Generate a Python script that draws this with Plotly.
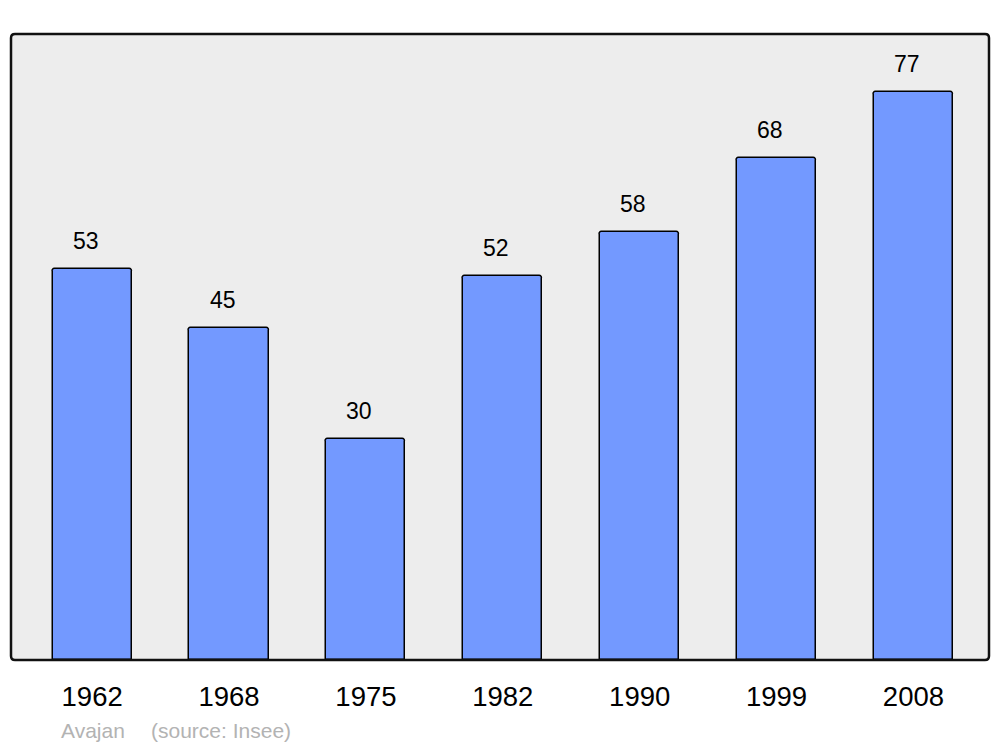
import plotly.graph_objects as go

years = ["1962", "1968", "1975", "1982", "1990", "1999", "2008"]
population = [53, 45, 30, 52, 58, 68, 77]

W, H = 1000, 747
L, R, T, B = 11, 11, 34, 87
pw, ph = W - L - R, H - T - B
FONT = "Liberation Sans, Arial, sans-serif"

fig = go.Figure()
fig.add_trace(go.Bar(
    x=list(range(len(years))), y=population, width=0.578,
    marker=dict(color="#7399ff", line=dict(color="black", width=1.5), cornerradius=3),
    hoverinfo="skip",
))

for i, v in enumerate(population):
    fig.add_annotation(x=i, y=v, text=str(v), showarrow=False, xref="x", yref="y",
                       yanchor="middle", yshift=28, xshift=-6.5,
                       font=dict(family=FONT, size=23, color="black"))

# rounded frame
rx, ry = 4 / pw, 4 / ph
path = (f"M {rx},0 L {1-rx},0 Q 1,0 1,{ry} L 1,{1-ry} Q 1,1 {1-rx},1 "
        f"L {rx},1 Q 0,1 0,{1-ry} L 0,{ry} Q 0,0 {rx},0 Z")
fig.add_shape(type="path", path=path, xref="paper", yref="paper", layer="below",
              fillcolor="#ededed", line=dict(width=0))
fig.add_shape(type="path", path=path, xref="paper", yref="paper", layer="above",
              line=dict(color="#111111", width=2.5))

def px2paper(x, y):
    return (x - L) / pw, (H - B - y) / ph

for txt, xpix in [("Avajan", 59), ("(source: Insee)", 149)]:
    xp, yp = px2paper(xpix, 730)
    fig.add_annotation(x=xp, y=yp, xref="paper", yref="paper", text=txt, showarrow=False,
                       xanchor="left", yanchor="middle",
                       font=dict(family=FONT, size=21, color="#b3b3b3"))

fig.update_layout(
    width=W, height=H,
    margin=dict(l=L, r=R, t=T, b=B, pad=0),
    paper_bgcolor="white", plot_bgcolor="rgba(0,0,0,0)",
    showlegend=False, bargap=0,
    font=dict(family=FONT, color="black"),
)
fig.update_xaxes(range=[-0.593, 6.552], showgrid=False, zeroline=False,
                 showline=False, ticks="outside", ticklen=12, tickcolor="rgba(0,0,0,0)",
                 tickmode="array", tickvals=list(range(len(years))), ticktext=years,
                 tickfont=dict(family=FONT, size=27.5, color="black"), fixedrange=True)
fig.update_yaxes(range=[0, 84.8], showgrid=False, zeroline=False, showline=False,
                 showticklabels=False, ticks="", fixedrange=True)

fig.write_html("out.html", config={"displayModeBar": False},
               post_script="document.body.style.margin='0';")
